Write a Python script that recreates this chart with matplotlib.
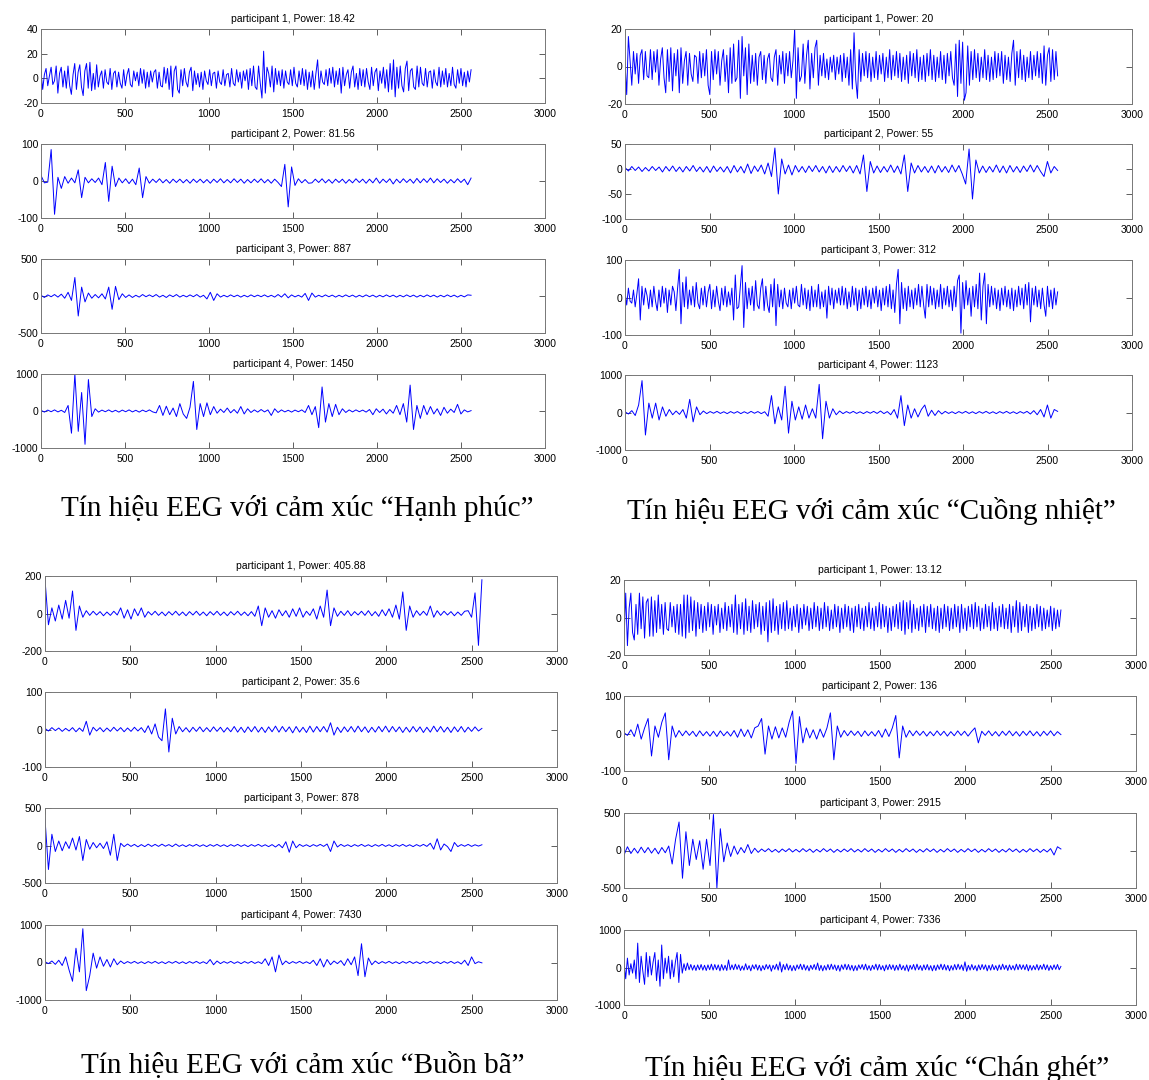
import numpy as np
import matplotlib.pyplot as plt

plt.rcParams['font.family'] = ['Liberation Sans', 'DejaVu Sans']
plt.rcParams['axes.unicode_minus'] = False

# samples 0..2560, values at evenly spaced samples
# "Hanh phuc"
hp1 = [5, -9, 3, 8, -6, 2, 9, -5, -2, 10, -12, 4, 9, -7, 6, -8,
       10, -6, -13, 3, 12, -9, 5, 11, -7, -14, 6, 12, -8, 13, -10, 4,
       -9, 11, -7, 2, 6, -8, 7, -3, -5, 8, -9, 4, 6, -7, 5, -4,
       -8, 7, -6, 3, 8, -5, -7, 6, -2, 5, -6, 8, -4, 7, -8, 5,
       -7, 6, -3, 5, 7, -8, 5, -6, -7, 9, -4, 8, -9, 10, -15, 6,
       10, -9, -12, 7, -6, 8, -3, -7, 5, 9, -10, 6, -5, 4, -7, 5,
       -9, 6, -2, -5, 7, -6, 4, 5, -8, 6, -3, -5, 7, -6, 3, 4,
       -7, 8, -4, -6, 7, -3, 5, -8, 6, -2, 7, -9, 8, -6, 10, -7,
       -9, 10, -4, -16, 22, -12, 9, 4, -7, 10, -11, 8, -5, 6, -6, 7,
       -8, 6, -3, -5, 7, -6, 9, -4, -7, 6, -5, 8, -6, 7, -9, 5,
       -7, 6, -9, 4, 15, -8, 6, -3, -5, 7, -6, 8, -4, 9, -7, 6,
       -5, 8, -12, 9, -6, 3, 7, -8, 5, 10, -7, 4, -9, 8, -6, 7,
       -7, 8, -3, -9, 9, -6, 5, 8, -10, 6, -4, 9, -8, 7, -11, 12,
       -9, 15, -15, 9, -8, 10, -6, -11, 8, 14, -10, 6, 8, -7, -9, 10,
       -7, 9, -4, -6, 8, -7, 5, 6, -8, 7, -3, -6, 9, -7, 6, -5,
       8, -7, 4, -6, 9, -5, -8, 7, -4, 8, -6, 5, -7, 6, -3, 7]
hp2 = [15, -5, -3, 85, -90, 10, -20, 12, -6, 8, -5, 30, -45, 10, -5, 6,
       -4, 8, -10, 50, -55, 40, -15, 8, -5, 6, -7, 5, -10, 35, -45, 12,
       -6, 5, -4, 6, -5, 4, -6, 5, -4, 5, -5, 4, -6, 5, -4, 5,
       -5, 4, -6, 5, -4, 6, -5, 4, -5, 6, -4, 5, -6, 4, -5, 5,
       -4, 6, -5, 4, -6, 5, -4, -15, 45, -70, 38, -12, 6, -5, 4, -6,
       -5, 5, -4, 6, -5, 4, -6, 5, -4, 5, -6, 4, -5, 6, -4, 5,
       -6, 5, -5, 8, -6, 5, -4, 6, -8, 5, -5, 6, -4, 5, -6, 7,
       -5, 6, -4, 8, -5, 6, -4, 5, -6, 4, -5, 6, -4, 5, -10, 8]
hp3 = [10, -20, 15, -10, 20, -15, 25, -30, 50, -60, 250, -270, 120, -80, 40, -30,
       20, -25, 30, -40, 120, -180, 130, -50, 30, -20, 15, -20, 10, -15, 20, -10,
       15, -10, 20, -15, 10, -20, 15, -10, 20, -15, 10, -12, 15, -10, 20, -15,
       10, -40, 50, -60, 30, -15, 10, -12, 15, -10, 12, -15, 10, -12, 15, -10,
       12, -10, 15, -12, 10, -15, 20, -15, 30, -25, 15, -12, 10, -15, 35, -60,
       40, -15, 10, -12, 15, -10, 12, -15, 10, -12, 15, -10, 12, -15, 10, -12,
       15, -10, 12, -15, 10, -12, 15, -10, 12, -15, 10, -12, 15, -10, 12, -15,
       10, -12, 15, -10, 12, -15, 10, -12, 15, -10, 12, -15, 10, -12, 15, 10]
hp4 = [20, -30, 25, -20, 30, -25, 20, -40, 150, -600, 1000, -550, 500, -900, 850, -150,
       60, -30, 25, -20, 30, -25, 20, -30, 25, -20, 30, -25, 20, -30, 25, -20,
       30, -25, -50, 150, -120, 130, -100, 80, -150, 200, -80, -200, 100, 800, -500, 200,
       -150, 220, -100, 120, -60, 50, -40, 80, -50, 40, -60, 120, -80, 60, -40, 30,
       -30, 40, -25, 30, -120, 60, -40, 30, -25, 20, -30, 25, -20, 30, -40, 150,
       -100, 120, -450, 650, -300, 200, -150, 180, -100, 60, -40, 30, -25, 30, -20, 25,
       -30, 40, -100, 60, -40, 50, -80, 40, -60, 150, -100, 200, -300, 700, -500, 150,
       -200, 150, -100, 120, -80, 60, -120, 100, -60, 50, -40, 180, -80, 30, -25, 10]

# "Cuong nhiet"
cn1 = [2, -15, 16, 3, -10, 8, -4, 7, -9, 6, 9, -7, 8, -5, -6, 9,
       -7, 8, -3, 9, -10, 4, 10, -6, -14, 9, -8, 10, -13, 7, -5, 9,
       -14, 10, -9, 3, 8, -10, 7, -4, -8, 6, 5, -9, 8, -6, 7, -5,
       9, -10, -15, 8, -7, 9, -4, 8, -10, 3, 9, -8, 6, -14, 10, -9,
       12, -8, -6, 14, -17, 16, -5, 10, -15, 12, -9, 6, -8, 7, -10, 5,
       8, -7, 6, -9, 4, 7, -6, -8, 5, 9, -10, 6, -4, 8, -9, 7,
       -5, 8, -6, 3, 20, -17, 10, -8, -5, 12, -9, 6, 14, -12, 7, -6,
       10, 14, -10, 6, -5, 7, -6, 4, -7, 5, -3, 6, -7, 5, -4, 6,
       -8, 7, -6, 5, -10, 9, -12, 18, -7, -17, 9, -8, 7, -5, 8, -6,
       7, -8, 5, -6, 8, -7, 6, -4, 7, -8, 5, -6, 9, -7, 6, -5,
       8, -6, 7, -8, 5, -7, 6, -9, 8, -5, 7, -6, 9, -8, 5, -7,
       6, -8, 7, -5, 9, -7, 6, -8, 5, -6, 8, -7, 6, -9, 7, -5,
       8, -6, -10, 12, -16, 14, -9, 13, -18, -14, 11, -10, 8, -7, 9, -6,
       7, -8, 5, -6, 9, -7, 6, -8, 5, -7, 8, -6, 7, -5, 8, -9,
       6, -7, 5, -8, 7, 14, -10, 8, -6, 9, -7, 6, -8, 5, -6, 8,
       -7, 6, -5, 8, -6, 7, -9, 11, -10, 6, 10, -8, 9, -7, 8, -5]
cn2 = [3, -4, 5, -3, 4, -5, 3, -4, 5, -3, 4, -6, 5, -4, 6, -5,
       4, -6, 5, -4, 7, -5, 4, -6, 5, -7, 6, -5, 4, -6, 5, -8,
       7, -6, 5, -8, 10, -9, 6, -5, 8, -10, 12, -15, 42, -50, 20, -10,
       8, -12, 7, -6, 5, -7, 6, -5, 7, -6, 5, -8, 6, -7, 5, -6,
       7, -5, 6, -8, 7, -10, 28, -45, 15, -8, 6, -7, 5, -6, 8, -7,
       6, -10, 28, -45, 12, -8, 7, -6, 5, -7, 6, -8, 7, -6, 5, -7,
       8, -6, 7, -10, -30, 40, -60, 18, -8, 6, -7, 5, -6, 8, -7, 6,
       -8, 7, -6, 5, -7, 6, -5, 8, -6, 7, -5, -15, 15, -8, 5, -3]
cn3 = [15, -20, 25, -10, -15, 20, -25, 10, 50, -60, 30, -20, 25, 5, -30, 20,
       -25, 30, -10, -35, 20, -25, 30, -15, 25, -40, 20, -20, 30, 15, -35, 25,
       75, -70, 40, -25, 55, -30, 20, -20, 30, -25, 40, -15, -30, 25, -20, 30,
       -25, 15, 35, -30, 20, -25, 30, -10, -35, 25, -20, 30, -25, 15, -20, 25,
       -60, 60, -30, -25, 30, 85, -80, 40, -30, 25, -20, 30, -35, 45, -20, -30,
       25, 50, -35, 30, -20, -40, 35, -25, 50, -75, 35, -25, 20, -30, 25, -15,
       -25, 20, -30, 25, -15, 30, -20, -25, 35, -20, 25, -30, 20, -35, 30, -25,
       20, -25, 35, -30, 15, -25, 20, -55, 30, -20, 25, -30, 20, -15, 25, -20,
       30, -20, 25, -30, 15, -25, 30, -20, 25, -35, 20, -30, 25, -20, 30, -25,
       20, -30, 25, -15, 30, -25, 20, -35, 25, -20, 30, -25, 35, -30, 20, -40,
       35, 75, -70, 40, -30, 25, -35, 30, -25, 20, -30, 25, -20, 35, -25, 30,
       -20, -55, 35, -25, 30, -20, 25, -30, 20, -25, 35, -30, 25, -20, 30, -25,
       20, -35, 30, -25, 45, 60, -95, 40, -30, 45, -20, 25, -50, 30, -25, 35,
       -30, 65, -60, 30, 65, -70, 35, -25, 30, -20, 25, -30, 20, -35, 25, -20,
       30, -25, 20, -30, 25, -35, 20, -25, 30, -20, 25, -30, 35, -20, 40, -65,
       25, -20, 30, -25, 20, -30, 25, -20, -50, 30, -25, 20, -30, 25, -20, 15]
cn4 = [20, -40, 50, -80, 200, 850, -600, 250, -150, 250, -200, 150, -100, 80, -60, 40,
       -50, 80, -150, 350, -250, 150, -60, 40, -30, 25, -20, 30, -25, 20, -30, 25,
       -20, 25, -30, 20, -25, 30, -20, 25, -30, 20, -100, 450, -300, 150, -200, 700,
       -550, 300, -200, 150, -180, 200, -150, 100, -150, 750, -700, 300, -150, 100, -60, 40,
       -30, 25, -20, 30, -25, 20, -30, 25, -20, 30, -25, 40, -30, 25, -60, 80,
       -150, 450, -350, 200, -150, 100, -120, 80, 200, -100, 60, -80, 50, -40, 30, -25,
       20, -30, 25, -20, 30, -25, 20, -30, 25, -20, 30, -25, 20, -30, 25, -20,
       30, -25, 20, -30, 25, -20, 30, -40, 50, -60, 80, -120, 200, -150, 80, 30]

# "Buon ba"
bb1 = [180, -60, 30, -40, 45, -30, 70, -25, 120, -90, 40, -20, 15, -10, 12, -8,
       10, -12, 8, -10, 12, -8, 30, -25, 20, -30, 25, -12, 30, -20, 10, -8,
       12, -10, 8, -12, 10, -8, 12, -10, 8, -12, 10, -8, 12, -10, 8, -12,
       10, -8, 12, -10, 8, -12, 10, -8, 12, -10, 8, -12, 10, -15, 40, -65,
       30, -20, 15, -25, 20, -12, 15, -20, 25, -15, 30, -20, 12, -10, 25, -30,
       40, -20, 125, -65, 30, -15, 12, -10, 15, -12, 10, -8, 12, -10, 15, -12,
       10, -15, 20, -12, 25, -20, 45, -30, 115, -90, 40, -20, 15, -10, 12, -10,
       40, -20, 15, -10, 12, -8, 10, -12, 8, -10, 12, 15, -20, 110, -170, 180]
bb2 = [3, -4, 5, -3, 4, -5, 3, -4, 5, -6, 4, -5, 22, -15, 6, -4,
       5, -6, 4, -5, 6, -4, 5, -6, 4, -5, 6, -4, 5, -8, 10, -12,
       15, -20, -30, 55, -60, 30, -12, 8, -6, 5, -7, 6, -5, 7, -6, 5,
       -6, 7, -5, 6, -7, 5, -6, 8, -7, 6, -8, 7, -6, 8, -7, 6,
       -8, 7, -6, 9, -7, 8, -6, 7, -9, 8, -7, 6, -8, 9, -7, 8,
       -6, 8, -7, 18, -15, 6, -8, 7, -6, 8, -7, 9, -6, 7, -8, 6,
       -7, 8, -6, 9, -7, 8, -6, 7, -8, 6, -7, 8, -6, 7, -8, 6,
       -7, 9, -6, 8, -7, 6, -8, 7, -6, 8, -7, 6, -5, 7, -4, 3]
bb3 = [350, -320, 150, -80, 60, -70, 50, -40, 100, -60, 120, -200, 80, -50, 40, -30,
       30, -40, 50, -130, 150, -200, 30, -15, 20, -12, 15, -18, 12, -15, 18, -12,
       15, -12, 18, -10, 12, -15, 20, -12, 10, -15, 12, -10, 15, -12, 10, -15,
       12, -10, 15, -12, 10, -15, 12, -10, 15, -12, 10, -15, 12, -10, 15, -12,
       10, -15, 12, -20, 15, -30, 50, -90, 60, -30, 15, -12, 10, -15, 12, -10,
       15, -12, 20, -80, 60, -20, 15, -12, 10, -15, 12, -10, 15, -12, 10, -15,
       12, -10, 15, -12, 10, -15, 12, -10, 15, -12, 10, -15, 12, -10, 15, -12,
       30, -50, 90, -60, 20, -15, -80, 40, -15, 12, -10, 15, -12, 10, -8, 10]
bb4 = [20, -30, 40, -50, 60, -80, 150, -200, -500, 380, -250, 900, -750, -350, 250, -150,
       150, -100, 80, -120, 100, -60, 40, -30, 25, -20, 30, -25, 20, -30, 25, -20,
       30, -25, 20, -30, 25, -20, 30, -25, 20, -30, 25, -20, 30, -25, 20, -30,
       80, -60, 40, -30, 25, -20, 30, -25, 20, -30, 25, -20, 30, -25, 20, -30,
       100, -80, 150, -250, 200, -60, 40, -30, 25, -20, 30, -25, 20, -30, 60, -80,
       100, -120, 80, -60, 40, -30, 50, -80, 100, -60, 150, -350, 500, -380, 120, -60,
       40, -30, 25, -20, 30, -25, 20, -30, 25, -20, 30, -25, 20, -30, 25, -20,
       30, -25, 20, -30, 25, -20, 30, -25, 20, -40, 60, -80, 150, -30, 20, -10]

# "Chan ghet"
cg1 = [-12, 13, -15, 5, 13, -8, -12, 7, -9, 13, -6, 11, -11, 8, 10, -10,
       11, -10, 9, -8, 12, -6, 7, -9, 8, -6, -7, 8, -5, 6, -8, 7,
       -9, 7, -10, 12, -11, 12, -8, 11, -7, 9, -10, 8, -6, 7, -8, 6,
       -7, 8, -5, 7, -9, 6, -4, 7, -8, 5, -6, 8, -7, 6, -5, 7,
       -8, 12, -9, 7, -6, 8, -9, 10, -7, 6, -8, 9, -6, 7, -5, 8,
       -9, 6, -7, 8, -13, 9, -8, 10, -7, 6, -9, 7, -6, 8, -7, 9,
       -6, 5, -7, 6, -5, 7, -8, 5, -6, 7, -4, 6, -7, 5, -6, 8,
       -5, 6, -7, 5, -6, 8, -5, 6, -7, 4, -6, 7, -5, 6, -8, 5,
       -6, 7, -5, 6, -7, 5, -8, 6, -5, 7, -6, 5, -7, 6, -5, 8,
       -6, 5, -7, 6, -5, 8, -6, 7, -5, 6, -8, 5, -7, 6, -5, 7,
       -6, 8, -7, 9, -9, 8, -6, 9, -8, 7, -6, 5, -7, 6, -5, 7,
       -8, 6, -5, 7, -6, 5, -7, 6, -8, 5, -6, 7, -5, 6, -7, 5,
       -6, 7, -5, 6, -8, 7, -6, 5, -7, 6, -5, 7, -6, 8, -5, 6,
       -7, 5, -6, 7, -5, 6, -7, 8, -6, 5, -7, 6, -5, 7, -6, 5,
       -6, 7, -8, 6, -5, 9, -8, 8, -7, 6, -5, 7, -8, 6, -7, 5,
       -6, 7, -5, 6, -7, 5, -6, 4, -5, 6, -7, 5, -6, 4, -5, 4]
cg2 = [2, -5, 10, -8, 25, -15, 15, 40, -60, 20, -10, 30, 55, -70, 20, -10,
       8, -6, 7, -5, 6, -8, 7, -6, 5, -7, 6, -8, 7, -6, 5, -7,
       8, -10, 12, -8, 10, -12, 15, 20, 40, -55, 20, -15, 18, -12, 15, -10,
       30, 60, -80, 45, -25, 15, -12, 10, -15, 12, -10, 15, 55, -70, 20, -10,
       8, -6, 7, -5, 6, -8, 7, -6, 5, -7, 8, -10, 12, -8, 15, 48,
       -65, 20, -10, 8, -6, 7, -5, 6, -7, 5, -6, 7, -5, 6, -7, 5,
       -6, 7, -5, 6, -7, 5, 15, -25, 6, -5, 7, -6, 5, -7, 6, -5,
       7, -6, 5, -7, 6, -5, 7, -6, 5, -7, 6, -5, 7, -6, 5, -3]
cg3 = [-60, 50, -40, 30, -35, 45, -30, 40, -35, 30, -45, 40, -30, 60, -180, 150,
       380, -370, 250, -200, 150, -120, 130, -250, 150, -200, 480, -500, 290, -150, 100, -80,
       60, -50, 40, -30, 80, -40, 30, -25, 20, -15, 25, -20, 15, -25, 20, -15,
       25, -20, 15, -20, 25, -15, 20, -25, 15, -20, 25, -15, 20, -25, 15, -20,
       20, -15, 25, -20, 15, -20, 25, -15, 20, -25, 15, -20, 25, -15, 20, -25,
       15, -20, 25, -15, 20, -25, 15, -20, 25, -15, 20, -25, 15, -20, 25, -15,
       20, -25, 15, -20, 25, -15, 20, -25, 15, -20, 25, -15, 20, -25, 15, -20,
       25, -15, 20, -25, 15, -20, 25, -15, 20, -25, 15, -20, 25, -60, 50, 20]
cg4 = [150, -300, 250, -200, 100, -150, 200, -300, 650, -400, 300, -100, -450, 400, -250, 300,
       -200, 150, 400, -350, 200, -500, 600, -300, 250, -150, 300, -300, 200, -250, 150, 400,
       -400, 350, -150, 100, -80, 120, -60, 80, -70, 60, -80, 70, -60, 80, -70, 60,
       -80, 70, -60, 90, -70, 80, -60, 70, -90, 80, -70, 60, -80, 200, -60, 70,
       -60, 90, -50, 70, -80, 40, -70, 100, -60, 50, -90, 70, -40, 80, -70, 60,
       -90, 50, -60, 80, -40, 70, -100, 60, -50, 90, -70, 150, -120, 80, -60, 100,
       -70, 60, -90, 50, -80, 70, -40, 90, -60, 80, -70, 50, -90, 60, -50, 80,
       -60, 120, -80, 60, -90, 50, -70, 80, -60, 90, -50, 70, -80, 60, -100, 70,
       -50, 90, -60, 80, -70, 60, -90, 50, -80, 70, -40, 80, -60, 90, -70, 50,
       -80, 60, -50, 90, -70, 80, -60, 50, -90, 70, -60, 80, -50, 70, -80, 60,
       -70, 90, -60, 50, -80, 70, -100, 60, -50, 80, -70, 90, -60, 50, -80, 70,
       -60, 80, -70, 50, -90, 60, -80, 70, -50, 90, -60, 80, -70, 60, -90, 50,
       -70, 80, -60, 90, -50, 70, -80, 150, -100, 60, -70, 80, -60, 50, -90, 70,
       -60, 80, -50, 70, -90, 60, -70, 80, -60, 50, -80, 70, -60, 90, -50, 60,
       -80, 70, -60, 50, -70, 90, -60, 80, -50, 70, -60, 80, -90, 60, -70, 50,
       -60, 80, -70, 60, -50, 90, -60, 70, -80, 50, -60, 70, -50, 80, -60, 30]

hp_power = ['18.42', '81.56', '887', '1450']
cn_power = ['20', '55', '312', '1123']
bb_power = ['405.88', '35.6', '878', '7430']
cg_power = ['13.12', '136', '2915', '7336']

hp_ylim = [(-20, 40), (-100, 100), (-500, 500), (-1000, 1000)]
cn_ylim = [(-20, 20), (-100, 50), (-100, 100), (-1000, 1000)]
bb_ylim = [(-200, 200), (-100, 100), (-500, 500), (-1000, 1000)]
cg_ylim = [(-20, 20), (-100, 100), (-500, 500), (-1000, 1000)]

hp_yticks = [[-20, 0, 20, 40], [-100, 0, 100], [-500, 0, 500], [-1000, 0, 1000]]
cn_yticks = [[-20, 0, 20], [-100, -50, 0, 50], [-100, 0, 100], [-1000, 0, 1000]]
bb_yticks = [[-200, 0, 200], [-100, 0, 100], [-500, 0, 500], [-1000, 0, 1000]]
cg_yticks = [[-20, 0, 20], [-100, 0, 100], [-500, 0, 500], [-1000, 0, 1000]]

captions = ['Tín hiệu EEG với cảm xúc “Hạnh phúc”',
            'Tín hiệu EEG với cảm xúc “Cuồng nhiệt”',
            'Tín hiệu EEG với cảm xúc “Buồn bã”',
            'Tín hiệu EEG với cảm xúc “Chán ghét”']

W, H = 1149, 1080
fig = plt.figure(figsize=(W / 100, H / 100), dpi=100)


def panel(left, right, tops, h, traces, powers, ylims, yticks):
    for k in range(4):
        ax = fig.add_axes([left / W, 1 - (tops[k] + h) / H, (right - left) / W, h / H])
        y = np.array(traces[k], dtype=float)
        x = np.linspace(0, 2560, len(y))
        ax.plot(x, y, color='#0000ff', lw=0.7)
        ax.set_xlim(0, 3000)
        ax.set_xticks(range(0, 3001, 500))
        ax.set_ylim(*ylims[k])
        ax.set_yticks(yticks[k])
        ax.set_title(f'participant {k + 1}, Power: {powers[k]}', fontsize=7.5, pad=5)
        ax.tick_params(direction='in', top=True, right=True, length=4, width=0.6,
                       labelsize=7.5, color='#444444', pad=2)
        ax.tick_params(axis='x', pad=4)
        for s in ax.spines.values():
            s.set_color('#777777')
            s.set_linewidth(0.7)


panel(41, 545, [29, 144, 259, 374], 74, [hp1, hp2, hp3, hp4], hp_power, hp_ylim, hp_yticks)
panel(625, 1132, [29, 144, 260, 375], 75, [cn1, cn2, cn3, cn4], cn_power, cn_ylim, cn_yticks)
panel(45, 557, [576, 692, 808, 925], 75, [bb1, bb2, bb3, bb4], bb_power, bb_ylim, bb_yticks)
panel(624, 1136, [580, 696, 813, 930], 75, [cg1, cg2, cg3, cg4], cg_power, cg_ylim, cg_yticks)

cap_pos = [(297, 509), (871, 511), (303, 1065), (877, 1068)]
for (cx, cy), txt in zip(cap_pos, captions):
    fig.text(cx / W, 1 - cy / H, txt, ha='center', va='center',
             family=['Liberation Serif', 'DejaVu Serif'], fontsize=21)

fig.savefig('out.png', dpi=100)
